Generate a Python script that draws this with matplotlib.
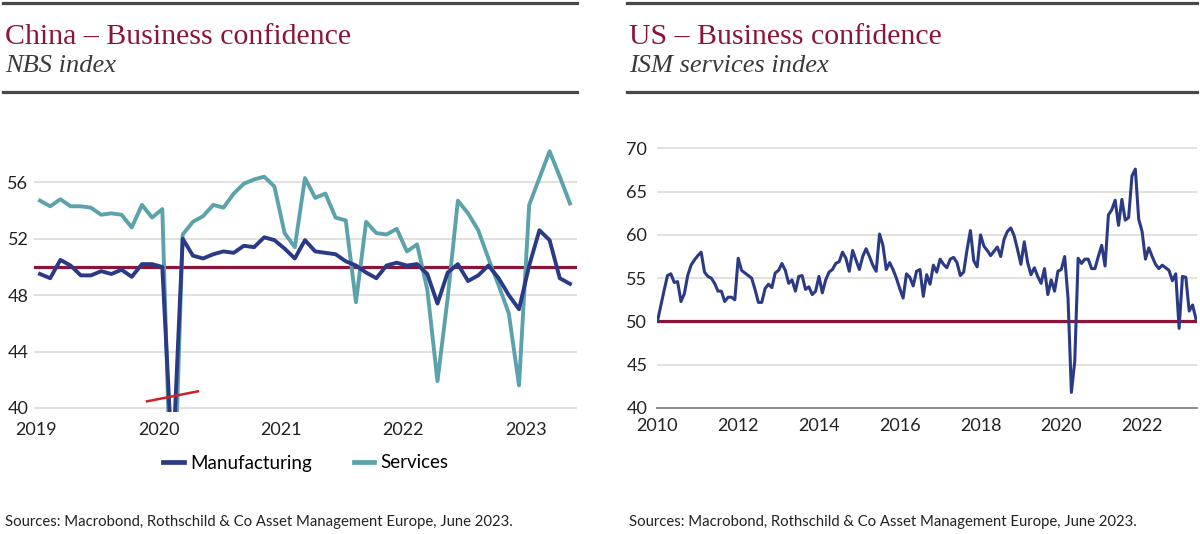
import numpy as np
import matplotlib
matplotlib.use("Agg")
from matplotlib import pyplot as plt
from matplotlib.lines import Line2D

# ------------------------------------------------------------
# Data
# ------------------------------------------------------------

# China NBS PMI, Jan 2019 - May 2023
cn_manufacturing = [
    49.5, 49.2, 50.5, 50.1, 49.4, 49.4, 49.7, 49.5, 49.8, 49.3, 50.2, 50.2,
    50.0, 35.7, 52.0, 50.8, 50.6, 50.9, 51.1, 51.0, 51.5, 51.4, 52.1, 51.9,
    51.3, 50.6, 51.9, 51.1, 51.0, 50.9, 50.4, 50.1, 49.6, 49.2, 50.1, 50.3,
    50.1, 50.2, 49.5, 47.4, 49.6, 50.2, 49.0, 49.4, 50.1, 49.2, 48.0, 47.0,
    50.1, 52.6, 51.9, 49.2, 48.8,
]
cn_services = [
    54.7, 54.3, 54.8, 54.3, 54.3, 54.2, 53.7, 53.8, 53.7, 52.8, 54.4, 53.5,
    54.1, 29.6, 52.3, 53.2, 53.6, 54.4, 54.2, 55.2, 55.9, 56.2, 56.4, 55.7,
    52.4, 51.4, 56.3, 54.9, 55.2, 53.5, 53.3, 47.5, 53.2, 52.4, 52.3, 52.7,
    51.1, 51.6, 48.4, 41.9, 47.8, 54.7, 53.8, 52.6, 50.6, 48.7, 46.7, 41.6,
    54.4, 56.3, 58.2, 56.4, 54.5,
]
cn_start_year = 2019
cn_yticks = [40, 44, 48, 52, 56]
cn_xticks = [2019, 2020, 2021, 2022, 2023]

# US ISM services index, Jan 2010 - May 2023
us_services = [
    50.0, 51.8, 53.6, 55.3, 55.5, 54.5, 54.6, 52.3, 53.2, 55.3, 56.5, 57.1,
    57.6, 58.0, 55.7, 55.2, 55.0, 54.4, 53.5, 53.5, 52.3, 52.8, 52.8, 52.5,
    57.3, 55.9, 55.6, 55.3, 55.0, 53.7, 52.2, 52.2, 53.8, 54.3, 53.9, 55.6,
    55.9, 56.7, 55.9, 54.4, 54.8, 53.5, 55.2, 55.3, 53.7, 54.0, 53.1, 53.5,
    55.2, 53.3, 54.8, 55.7, 56.0, 56.7, 56.9, 58.0, 57.3, 55.8, 58.2, 57.1,
    56.0, 57.5, 58.4, 57.5, 56.5, 55.8, 60.1, 58.8, 56.0, 56.8, 56.0, 55.0,
    53.8, 52.7, 55.5, 55.1, 54.1, 55.8, 56.0, 52.9, 55.4, 54.3, 56.5, 55.7,
    57.2, 56.6, 56.2, 57.2, 57.4, 56.8, 55.3, 55.7, 58.3, 60.5, 57.0, 56.3,
    60.0, 58.7, 58.2, 57.6, 58.1, 58.6, 57.5, 59.5, 60.4, 60.8, 59.9, 58.3,
    56.6, 59.2, 56.8, 55.4, 56.2, 55.2, 54.4, 56.1, 53.1, 54.8, 53.5, 55.8,
    56.0, 57.5, 52.7, 41.8, 45.4, 57.3, 56.7, 57.2, 57.2, 56.1, 56.1, 57.5,
    58.8, 56.4, 62.3, 62.9, 64.0, 61.1, 64.1, 61.7, 62.0, 66.8, 67.6, 61.8,
    60.4, 57.2, 58.5, 57.5, 56.6, 56.1, 56.5, 56.2, 55.9, 54.7, 55.5, 49.2,
    55.2, 55.1, 51.2, 51.9, 50.3,
]
us_start_year = 2010
us_yticks = [40, 45, 50, 55, 60, 65, 70]
us_xticks = [2010, 2012, 2014, 2016, 2018, 2020, 2022]

threshold = 50

# ------------------------------------------------------------
# Style
# ------------------------------------------------------------

MAROON = "#8A1538"
NAVY = "#2B3A85"
TEAL = "#5BA2AB"
GRID = "#DDD8D2"
RULE = "#4A4846"
TEXT = "#222222"
SANS = "Lato"
SERIF = "Liberation Serif"

plt.rcParams.update({
    "font.family": SANS,
    "figure.facecolor": "white",
    "savefig.facecolor": "white",
})

W, H = 1200, 534
fig = plt.figure(figsize=(W / 100, H / 100), dpi=100)


def fx(px):
    return px / W


def fy(py):
    return 1 - py / H


def header(x0, x1, title, subtitle):
    for y in (3, 92):
        fig.add_artist(Line2D([fx(x0), fx(x1)], [fy(y), fy(y)], color=RULE,
                              linewidth=2.3, transform=fig.transFigure))
    fig.text(fx(x0 + 2), fy(37), title, family=SERIF, fontsize=21.5,
             color=MAROON, va="center", ha="left")
    fig.text(fx(x0 + 2), fy(66), subtitle, family=SERIF, style="italic",
             fontsize=19, color="#3A3A3A", va="center", ha="left")
    fig.text(fx(x0 + 2), fy(522), "Sources: Macrobond, Rothschild & Co Asset "
             "Management Europe, June 2023.", fontsize=10.7, color=TEXT,
             va="center", ha="left")


def style_axes(ax, yticks):
    ax.set_yticks(yticks)
    ax.grid(axis="y", color=GRID, linewidth=1.1, zorder=0)
    ax.tick_params(axis="both", length=0, labelsize=13, colors=TEXT)
    for s in ax.spines.values():
        s.set_visible(False)


# ------------------------------------------------------------
# China panel
# ------------------------------------------------------------

header(3, 577, "China – Business confidence", "NBS index")

ax1 = fig.add_axes([fx(34), fy(412.2), fx(577 - 34), (412.2 - 140) / H])
cn_x = cn_start_year + (np.arange(len(cn_manufacturing)) + 0.35) / 12
ax1.axhline(threshold, color=MAROON, linewidth=2.3, zorder=2)
ax1.plot(cn_x, cn_services, color=TEAL, linewidth=2.8, label="Services", zorder=3)
ax1.plot(cn_x, cn_manufacturing, color=NAVY, linewidth=2.8,
         label="Manufacturing", zorder=4)
ax1.plot([2019.904, 2020.32], [40.47, 41.18], color="#D0202A", linewidth=1.8,
         zorder=5)
ax1.set_xlim(2018.98, 2023.42)
ax1.set_ylim(39.7, 59.0)
ax1.set_xticks(cn_xticks)
style_axes(ax1, cn_yticks)
ax1.tick_params(axis="x", pad=7)
ax1.tick_params(axis="y", pad=4)

handles = [Line2D([], [], color=NAVY, linewidth=3.4),
           Line2D([], [], color=TEAL, linewidth=3.4)]
fig.legend(handles, ["Manufacturing", "Services"], loc="center",
           bbox_to_anchor=(fx(306), fy(463)), ncol=2, frameon=False,
           fontsize=13.5, handlelength=1.1, handletextpad=0.35,
           columnspacing=2.2)

# ------------------------------------------------------------
# US panel
# ------------------------------------------------------------

header(627, 1197, "US – Business confidence", "ISM services index")

ax2 = fig.add_axes([fx(657), fy(408), fx(1197 - 657), (408 - 131) / H])
us_x = us_start_year + np.arange(len(us_services)) / 12
ax2.axhline(threshold, color=MAROON, linewidth=2.3, zorder=2)
ax2.plot(us_x, us_services, color=NAVY, linewidth=2.2, zorder=3)
ax2.set_xlim(2009.99, 2023.36)
ax2.set_ylim(40, 72)
ax2.set_xticks(us_xticks)
style_axes(ax2, us_yticks)
ax2.spines["bottom"].set_visible(True)
ax2.spines["bottom"].set_color("#8C8C8C")
ax2.spines["bottom"].set_linewidth(1.4)
ax2.tick_params(axis="x", pad=7)
ax2.tick_params(axis="y", pad=7)

fig.savefig("out.png", dpi=100)
